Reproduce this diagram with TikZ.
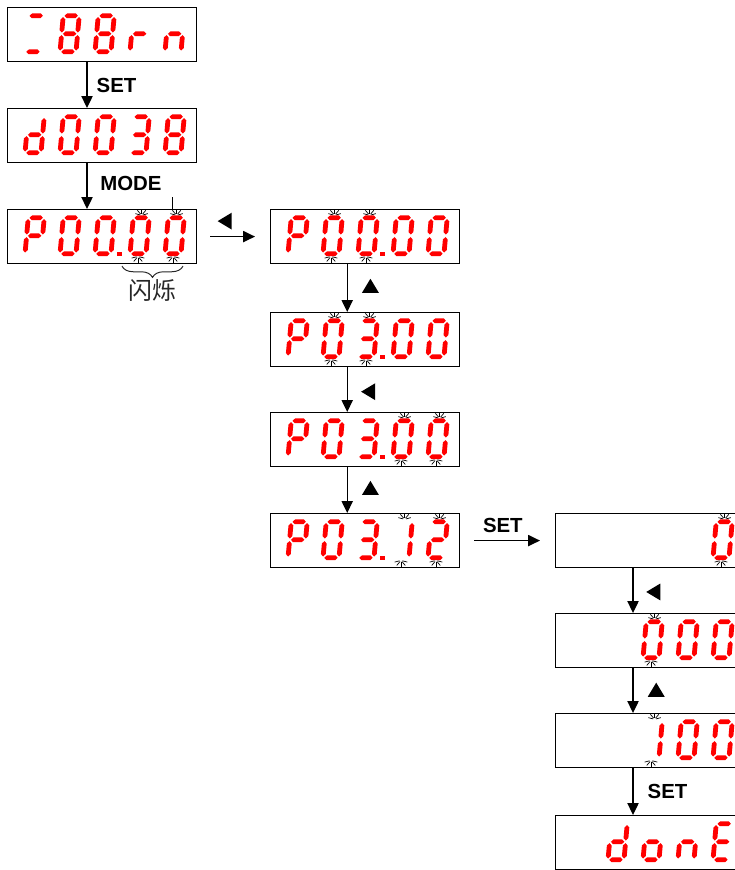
\documentclass[tikz,border=0pt]{standalone}
\usepackage{fontspec}
\setmainfont{Liberation Sans}
\newfontfamily\cjk{Noto Sans CJK SC}
\usetikzlibrary{arrows.meta,shapes.geometric,decorations.pathreplacing}

% segments lit for each character of the display
\pgfkeys{/segs/.cd,
  0/.initial={a,b,c,d,e,f}, 1/.initial={b,c}, 2/.initial={a,b,g,e,d},
  3/.initial={a,b,g,c,d}, 8/.initial={a,b,c,d,e,f,g},
  d/.initial={b,c,d,e,g}, P/.initial={a,b,e,f,g}, r/.initial={e,g},
  n/.initial={c,e,g}, o/.initial={c,d,e,g}, E/.initial={a,d,e,f,g},
  eq/.initial={a,d}}

% one horizontal / vertical segment
\newcommand{\hsg}[1]{\fill[seg,shift={(0,#1)}] (1.3,0) -- (3.7,-2.4) -- (12.3,-2.4) -- (14.7,0) -- (12.3,2.4) -- (3.7,2.4) -- cycle;}
\newcommand{\vsg}[2]{\fill[seg,shift={(#1,#2)}] (0,1.3) -- (2.4,3.7) -- (2.4,14.3) -- (0,16.7) -- (-2.4,14.3) -- (-2.4,3.7) -- cycle;}
\newcommand{\sga}{\hsg{-36}}
\newcommand{\sgb}{\vsg{16}{-36}}
\newcommand{\sgc}{\vsg{16}{-18}}
\newcommand{\sgd}{\hsg{0}}
\newcommand{\sge}{\vsg{0}{-18}}
\newcommand{\sgf}{\vsg{0}{-36}}
\newcommand{\sgg}{\hsg{-18}}

\newcommand{\digit}[3]{%
  \begin{scope}[shift={(#1,#2)},xslant=0.09]
    \edef\seglist{\pgfkeysvalueof{/segs/#3}}
    \foreach \s in \seglist {\csname sg\s\endcsname}
  \end{scope}}

\newcommand{\showdigits}[2]{%
  \begin{scope}[shift={(#1.north west)}]
    \foreach \k/\ch in {#2} {\digit{35*\k-17}{44.8}{\ch}}
  \end{scope}}

% decimal point after the third digit
\newcommand{\dpt}[1]{\fill[seg] ([shift={(110,42.5)}]#1.north west) rectangle ++(4.5,4.5);}

% flashing marks over and under a digit
\newcommand{\blink}[2]{%
  \begin{scope}[shift={(#1.north west)}]
    \foreach \a in {15,50,90,130,165} {
      \draw[spark] (35*#2-5.4,6.3) ++(-\a:1.5) -- ++(-\a:5);
      \draw[spark] (35*#2-9,47.4) ++(\a:1.5) -- ++(\a:5.1);
    }
  \end{scope}}

\begin{document}
\begin{tikzpicture}[x=0.025cm, y=-0.025cm,
    disp/.style={draw, line width=0.8pt, minimum width=4.725cm, minimum height=1.35cm, inner sep=0pt, anchor=north west},
    seg/.style={fill=red},
    spark/.style={line width=0.5pt},
    arr/.style={-{Triangle[length=8.5pt,width=8pt]}, line width=0.9pt},
    lbl/.style={font=\bfseries\fontsize{14.5}{16}\selectfont, inner sep=0pt},
    tri/.style={isosceles triangle, isosceles triangle stretches, fill, inner sep=0pt, minimum width=12pt, minimum height=10pt},
    brc/.style={decorate, decoration={brace, mirror, amplitude=8pt}, line width=0.7pt, black!85}]
  \useasboundingbox (0,0) rectangle (735,870);

  % displays
  \node[disp] (L1) at (7,7) {};
  \node[disp] (L2) at (7,108) {};
  \node[disp] (L3) at (7,209) {};
  \node[disp] (M1) at (270,209) {};
  \node[disp] (M2) at (270,312) {};
  \node[disp] (M3) at (270,412) {};
  \node[disp] (M4) at (270,513) {};
  \node[disp] (R1) at (555,513) {};
  \node[disp] (R2) at (555,613) {};
  \node[disp] (R3) at (555,713) {};
  \node[disp] (R4) at (555,815) {};

  \showdigits{L1}{1/eq,2/8,3/8,4/r,5/n}
  \showdigits{L2}{1/d,2/0,3/0,4/3,5/8}
  \showdigits{L3}{1/P,2/0,3/0,4/0,5/0} \dpt{L3}
  \blink{L3}{4} \blink{L3}{5}
  \showdigits{M1}{1/P,2/0,3/0,4/0,5/0} \dpt{M1}
  \blink{M1}{2} \blink{M1}{3}
  \showdigits{M2}{1/P,2/0,3/3,4/0,5/0} \dpt{M2}
  \blink{M2}{2} \blink{M2}{3}
  \showdigits{M3}{1/P,2/0,3/3,4/0,5/0} \dpt{M3}
  \blink{M3}{4} \blink{M3}{5}
  \showdigits{M4}{1/P,2/0,3/3,4/1,5/2} \dpt{M4}
  \blink{M4}{4} \blink{M4}{5}
  \showdigits{R1}{5/0}
  \blink{R1}{5}
  \showdigits{R2}{3/0,4/0,5/0}
  \blink{R2}{3}
  \showdigits{R3}{3/1,4/0,5/0}
  \blink{R3}{3}
  \showdigits{R4}{2/d,3/o,4/n,5/E}

  % flashing digits
  \coordinate (ptr) at (172,197);
  \draw[spark] (ptr) -- (ptr |- L3.north);
  \draw[brc] ([shift={(115,2)}]L3.south west) -- ([shift={(176,2)}]L3.south west);
  \node[font=\cjk\fontsize{17}{17}\selectfont, text=black!85] (blk) at (152,290) {闪烁};

  % key presses
  \draw[arr] ([xshift=2cm]L1.south west) -- node[lbl, right=6.4pt] {SET} ([xshift=2cm]L2.north west);
  \draw[arr] ([xshift=2cm]L2.south west) -- node[lbl, right=9pt, yshift=1.8pt] {MODE} ([xshift=2cm]L3.north west);
  \draw[arr] ([xshift=0.325cm]L3.east) -- node[tri, shape border rotate=180, xshift=-4pt, yshift=11pt] {} ([xshift=-0.375cm]M1.west);
  \draw[arr] ([xshift=1.93cm]M1.south west) -- node[tri, shape border rotate=90, xshift=16.5pt] {} ([xshift=1.93cm]M2.north west);
  \draw[arr] ([xshift=1.93cm]M2.south west) -- node[tri, shape border rotate=180, xshift=16.5pt, yshift=-1.5pt] {} ([xshift=1.93cm]M3.north west);
  \draw[arr] ([xshift=1.93cm]M3.south west) -- node[tri, shape border rotate=90, xshift=16.5pt] {} ([xshift=1.93cm]M4.north west);
  \draw[arr] ([xshift=0.35cm]M4.east) -- node[lbl, above=5.5pt, xshift=-3pt] {SET} ([xshift=-0.375cm]R1.west);
  \draw[arr] ([xshift=1.95cm]R1.south west) -- node[tri, shape border rotate=180, xshift=16pt, yshift=-1pt] {} ([xshift=1.95cm]R2.north west);
  \draw[arr] ([xshift=1.95cm]R2.south west) -- node[tri, shape border rotate=90, xshift=16.5pt, yshift=-1pt] {} ([xshift=1.95cm]R3.north west);
  \draw[arr] ([xshift=1.95cm]R3.south west) -- node[lbl, right=10pt] {SET} ([xshift=1.95cm]R4.north west);
\end{tikzpicture}
\end{document}
